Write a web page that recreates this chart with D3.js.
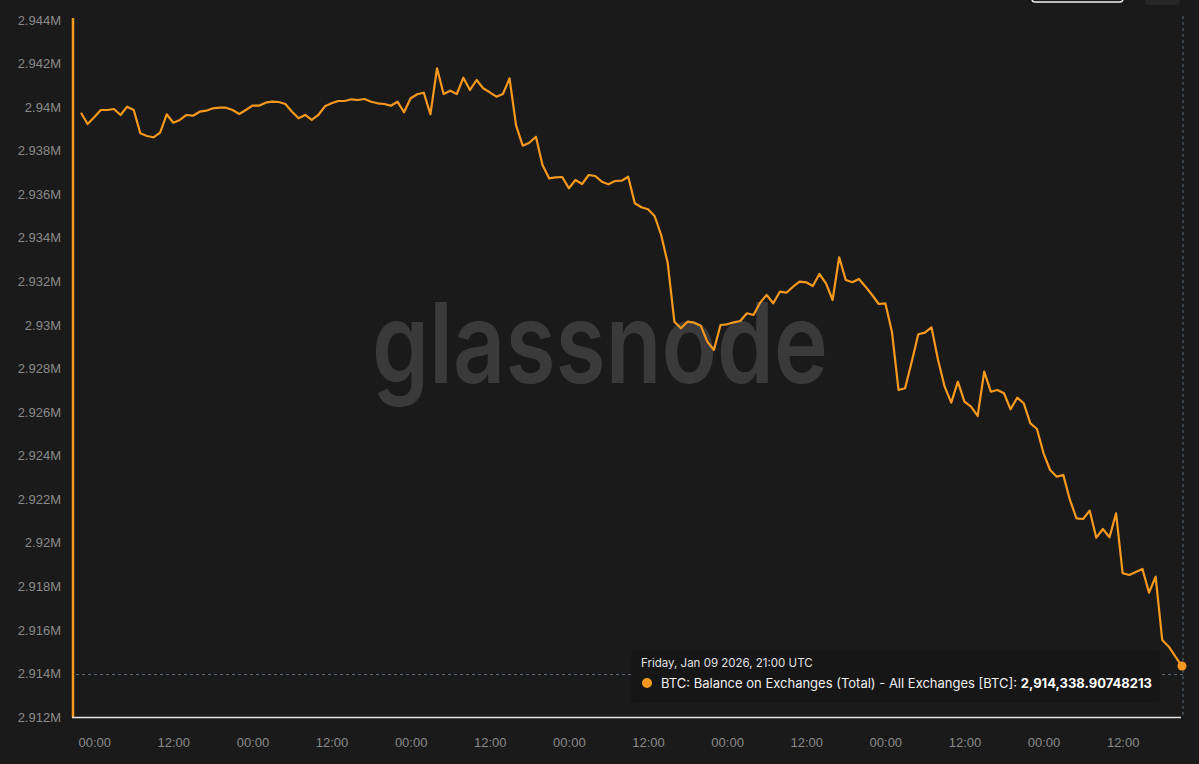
<!DOCTYPE html>
<html lang="en">
<head>
<meta charset="utf-8">
<script src="https://cdn.jsdelivr.net/npm/d3@7"></script>
<title>BTC Balance on Exchanges</title>
<style>
  html, body { margin: 0; padding: 0; background: #1a1a1a; }
  svg { display: block; font-family: Inter, "Noto Sans", sans-serif; }
</style>
</head>
<body>
<div id="chart"></div>
<script>
// hourly series, first point Jan 02 2026 22:00 UTC
const startTime = Date.UTC(2026, 0, 2, 22);
const balance = [
  2939744, 2939225, 2939533, 2939868, 2939868, 2939914, 2939639, 2940020, 2939868, 2938798,
  2938674, 2938615, 2938826, 2939671, 2939285, 2939409, 2939639, 2939606, 2939790, 2939836,
  2939946, 2939974, 2939974, 2939868, 2939684, 2939868, 2940066, 2940066, 2940203, 2940249,
  2940235, 2940144, 2939790, 2939487, 2939639, 2939409, 2939639, 2940038, 2940176, 2940281,
  2940281, 2940359, 2940327, 2940373, 2940249, 2940176, 2940144, 2940066, 2940249, 2939763,
  2940405, 2940589, 2940662, 2939671, 2941783, 2940603, 2940754, 2940603, 2941351, 2940786,
  2941245, 2940864, 2940681, 2940479, 2940603, 2941323, 2939147, 2938229, 2938367, 2938642,
  2937343, 2936732, 2936778, 2936792, 2936273, 2936654, 2936471, 2936884, 2936838, 2936576,
  2936457, 2936608, 2936622, 2936806, 2935585, 2935401, 2935309, 2935002, 2934129, 2932830,
  2930149, 2929846, 2930149, 2930103, 2929965, 2929231, 2928850, 2929997, 2930030, 2930121,
  2930181, 2930535, 2930457, 2931021, 2931375, 2930994, 2931526, 2931480, 2931756, 2931985,
  2931958, 2931788, 2932339, 2931912, 2931145, 2933106, 2932063, 2931958, 2932109, 2931756,
  2931375, 2930962, 2930994, 2929690, 2927013, 2927091, 2928313, 2929570, 2929644, 2929892,
  2928391, 2927165, 2926430, 2927394, 2926476, 2926247, 2925820, 2927853, 2926935, 2927013,
  2926862, 2926127, 2926660, 2926403, 2925484, 2925223, 2924107, 2923340, 2923033, 2923111,
  2921963, 2921123, 2921091, 2921472, 2920232, 2920632, 2920251, 2921353, 2918598, 2918520,
  2918658, 2918796, 2917707, 2918442, 2915536, 2915228, 2914769, 2914338.90748213
];
const yTicks = [2912000, 2914000, 2916000, 2918000, 2920000, 2922000, 2924000, 2926000, 2928000,
                2930000, 2932000, 2934000, 2936000, 2938000, 2940000, 2942000, 2944000];
const seriesName = "BTC: Balance on Exchanges (Total) - All Exchanges [BTC]: ";
const tipDate = "Friday, Jan 09 2026, 21:00 UTC";
const tipValue = "2,914,338.90748213";
const crossValue = 2913950;

const W = 1199, H = 764;
const ORANGE = "#f7991f";
const data = balance.map((v, i) => ({ t: new Date(startTime + i * 3600e3), v }));

const svg = d3.select("#chart").append("svg")
  .attr("width", W).attr("height", H);

svg.append("rect").attr("width", W).attr("height", H).attr("fill", "#1a1a1a");

const x = d3.scaleUtc()
  .domain([data[0].t, data[data.length - 1].t])
  .range([81, 1182]);
const y = d3.scaleLinear()
  .domain([2912000, 2944000])
  .range([717, 20]);

// watermark
svg.append("text")
  .attr("x", 600).attr("y", 383)
  .attr("text-anchor", "middle")
  .attr("font-size", 112)
  .attr("font-weight", 600)
  .attr("fill", "#3a3a3a")
  .attr("textLength", 456)
  .attr("lengthAdjust", "spacingAndGlyphs")
  .text("glassnode");

// top-right controls (cut off)
svg.append("rect").attr("x", 1032).attr("y", -20).attr("width", 91).attr("height", 22)
  .attr("rx", 3).attr("fill", "#1a1a1a").attr("stroke", "#f2f2f2").attr("stroke-width", 1.5);
svg.append("rect").attr("x", 1145).attr("y", -20).attr("width", 35).attr("height", 25)
  .attr("rx", 4).attr("fill", "#262626");

// y axis
const yAxis = svg.append("g")
  .attr("transform", "translate(73,0)")
  .call(d3.axisLeft(y).tickValues(yTicks).tickSize(0).tickPadding(12).tickFormat(d3.format(".4~s")));
yAxis.select(".domain").remove();
yAxis.selectAll("text").attr("fill", "#8a8a8a").attr("font-size", 13);
svg.append("line")
  .attr("x1", 73).attr("x2", 73).attr("y1", y(2944000) - 2).attr("y2", y(2912000))
  .attr("stroke", ORANGE).attr("stroke-width", 2.5);

// x axis
const xAxis = svg.append("g")
  .attr("transform", "translate(0,717)")
  .call(d3.axisBottom(x).ticks(d3.utcHour.every(12)).tickSize(0).tickPadding(21)
    .tickFormat(d3.utcFormat("%H:%M")));
xAxis.select(".domain").remove();
xAxis.selectAll("text").attr("fill", "#8a8a8a").attr("font-size", 13);
svg.append("line")
  .attr("x1", 72).attr("x2", 1181).attr("y1", 717.5).attr("y2", 717.5)
  .attr("stroke", "#e6e6e6").attr("stroke-width", 1.5);

// crosshair
svg.append("line")
  .attr("x1", x(data[data.length - 1].t) + 1).attr("x2", x(data[data.length - 1].t) + 1)
  .attr("y1", 16).attr("y2", 717)
  .attr("stroke", "#5b6b7c").attr("stroke-width", 1).attr("stroke-dasharray", "3,3");
svg.append("line")
  .attr("x1", 76).attr("x2", 1186).attr("y1", y(crossValue)).attr("y2", y(crossValue))
  .attr("stroke", "#5b6b7c").attr("stroke-width", 1).attr("stroke-dasharray", "3,3");

// series
svg.append("path")
  .datum(data)
  .attr("fill", "none")
  .attr("stroke", ORANGE)
  .attr("stroke-width", 2.2)
  .attr("stroke-linejoin", "round")
  .attr("d", d3.line().x(d => x(d.t)).y(d => y(d.v)));

const last = data[data.length - 1];
svg.append("circle")
  .attr("cx", x(last.t)).attr("cy", y(last.v)).attr("r", 4.5)
  .attr("fill", ORANGE);

// tooltip
const tip = svg.append("g");
tip.append("rect")
  .attr("x", 631).attr("y", 650).attr("width", 529).attr("height", 53)
  .attr("rx", 4).attr("fill", "#161616");
tip.append("text")
  .attr("x", 641).attr("y", 667)
  .attr("fill", "#e0e0e0").attr("font-size", 11.5)
  .text(tipDate);
tip.append("circle").attr("cx", 647).attr("cy", 683).attr("r", 5).attr("fill", ORANGE);
const t2 = tip.append("text")
  .attr("x", 661).attr("y", 688)
  .attr("fill", "#f0f0f0").attr("font-size", 13);
t2.append("tspan").text(seriesName);
t2.append("tspan").attr("font-weight", 700).attr("fill", "#ffffff").text(tipValue);
</script>
</body>
</html>
